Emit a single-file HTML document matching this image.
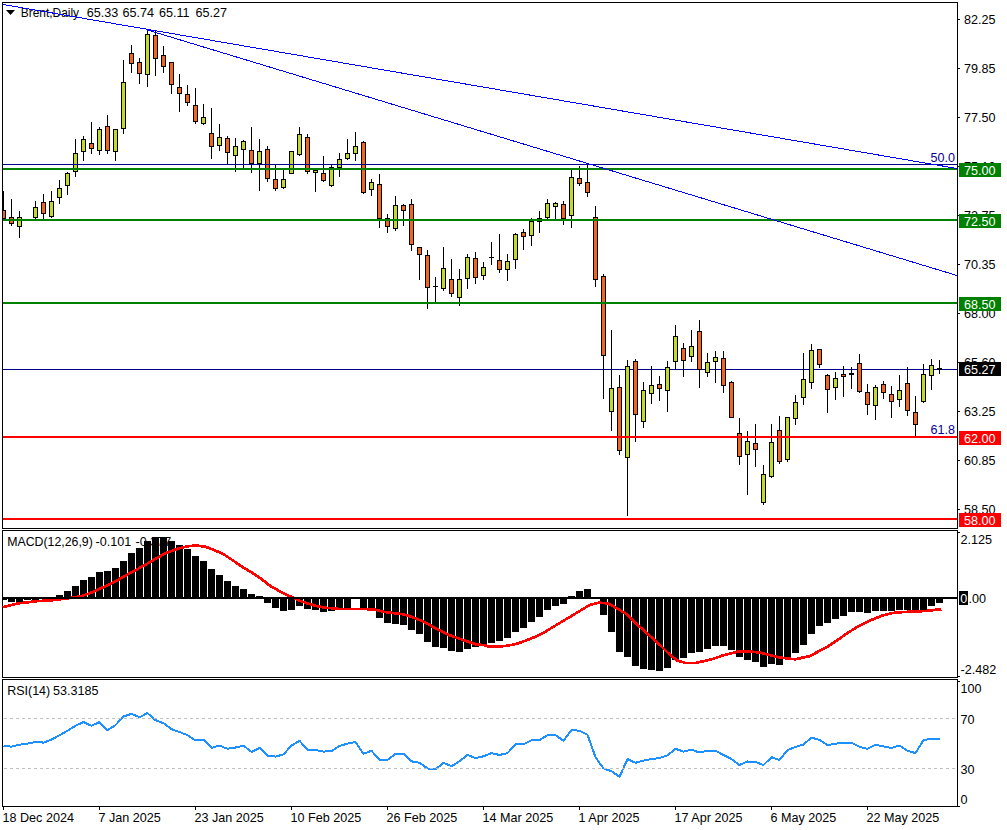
<!DOCTYPE html><html><head><meta charset="utf-8"><style>
html,body{margin:0;padding:0;background:#fff;width:1007px;height:830px;overflow:hidden}
svg{display:block}
text{font-family:"Liberation Sans", sans-serif;font-size:12.6px}
</style></head><body>
<svg width="1007" height="830" viewBox="0 0 1007 830">
<rect x="0" y="0" width="1007" height="830" fill="#fff"/>
<g shape-rendering="crispEdges">
<rect x="3" y="369" width="954" height="1" fill="#00008b"/>
</g>
<path d="M6 10 L15 10 L10.5 15 Z" fill="#000"/>
<text x="20.8" y="16.5" fill="#000" textLength="58.2" lengthAdjust="spacingAndGlyphs">Brent,Daily</text>
<text x="86.8" y="16.5" fill="#000">65.33</text>
<text x="122.4" y="16.5" fill="#000">65.74</text>
<text x="159" y="16.5" fill="#000">65.11</text>
<text x="195.6" y="16.5" fill="#000">65.27</text>
<g shape-rendering="crispEdges">
<clipPath id="mc"><rect x="3" y="3" width="954" height="525"/></clipPath>
<g clip-path="url(#mc)">
<rect x="3" y="191" width="1" height="30" fill="#000"/>
<rect x="1" y="210" width="5" height="9" fill="#000"/>
<rect x="2" y="211" width="3" height="7" fill="#f06520"/>
<rect x="11" y="199" width="1" height="27" fill="#000"/>
<rect x="9" y="217" width="5" height="7" fill="#000"/>
<rect x="10" y="218" width="3" height="5" fill="#f06520"/>
<rect x="19" y="211" width="1" height="27" fill="#000"/>
<rect x="17" y="217" width="5" height="10" fill="#000"/>
<rect x="18" y="218" width="3" height="8" fill="#c0d830"/>
<rect x="27" y="219" width="1" height="1" fill="#000"/>
<rect x="25" y="219" width="5" height="1" fill="#000"/>
<rect x="35" y="201" width="1" height="18" fill="#000"/>
<rect x="33" y="207" width="5" height="11" fill="#000"/>
<rect x="34" y="208" width="3" height="9" fill="#c0d830"/>
<rect x="43" y="194" width="1" height="25" fill="#000"/>
<rect x="41" y="202" width="5" height="12" fill="#000"/>
<rect x="42" y="203" width="3" height="10" fill="#f06520"/>
<rect x="51" y="191" width="1" height="27" fill="#000"/>
<rect x="49" y="201" width="5" height="16" fill="#000"/>
<rect x="50" y="202" width="3" height="14" fill="#c0d830"/>
<rect x="59" y="180" width="1" height="24" fill="#000"/>
<rect x="57" y="188" width="5" height="10" fill="#000"/>
<rect x="58" y="189" width="3" height="8" fill="#c0d830"/>
<rect x="67" y="172" width="1" height="23" fill="#000"/>
<rect x="65" y="173" width="5" height="13" fill="#000"/>
<rect x="66" y="174" width="3" height="11" fill="#c0d830"/>
<rect x="75" y="139" width="1" height="38" fill="#000"/>
<rect x="73" y="153" width="5" height="19" fill="#000"/>
<rect x="74" y="154" width="3" height="17" fill="#c0d830"/>
<rect x="83" y="136" width="1" height="25" fill="#000"/>
<rect x="81" y="139" width="5" height="13" fill="#000"/>
<rect x="82" y="140" width="3" height="11" fill="#c0d830"/>
<rect x="91" y="122" width="1" height="32" fill="#000"/>
<rect x="89" y="143" width="5" height="6" fill="#000"/>
<rect x="90" y="144" width="3" height="4" fill="#f06520"/>
<rect x="99" y="127" width="1" height="28" fill="#000"/>
<rect x="97" y="129" width="5" height="22" fill="#000"/>
<rect x="98" y="130" width="3" height="20" fill="#c0d830"/>
<rect x="107" y="115" width="1" height="39" fill="#000"/>
<rect x="105" y="126" width="5" height="25" fill="#000"/>
<rect x="106" y="127" width="3" height="23" fill="#f06520"/>
<rect x="115" y="129" width="1" height="32" fill="#000"/>
<rect x="113" y="129" width="5" height="23" fill="#000"/>
<rect x="114" y="130" width="3" height="21" fill="#c0d830"/>
<rect x="123" y="60" width="1" height="74" fill="#000"/>
<rect x="121" y="82" width="5" height="47" fill="#000"/>
<rect x="122" y="83" width="3" height="45" fill="#c0d830"/>
<rect x="131" y="45" width="1" height="28" fill="#000"/>
<rect x="129" y="53" width="5" height="11" fill="#000"/>
<rect x="130" y="54" width="3" height="9" fill="#f06520"/>
<rect x="139" y="58" width="1" height="26" fill="#000"/>
<rect x="137" y="62" width="5" height="12" fill="#000"/>
<rect x="138" y="63" width="3" height="10" fill="#f06520"/>
<rect x="147" y="30" width="1" height="57" fill="#000"/>
<rect x="145" y="34" width="5" height="41" fill="#000"/>
<rect x="146" y="35" width="3" height="39" fill="#c0d830"/>
<rect x="155" y="31" width="1" height="45" fill="#000"/>
<rect x="153" y="35" width="5" height="24" fill="#000"/>
<rect x="154" y="36" width="3" height="22" fill="#f06520"/>
<rect x="163" y="46" width="1" height="27" fill="#000"/>
<rect x="161" y="55" width="5" height="12" fill="#000"/>
<rect x="162" y="56" width="3" height="10" fill="#f06520"/>
<rect x="171" y="62" width="1" height="32" fill="#000"/>
<rect x="169" y="62" width="5" height="23" fill="#000"/>
<rect x="170" y="63" width="3" height="21" fill="#f06520"/>
<rect x="179" y="74" width="1" height="38" fill="#000"/>
<rect x="177" y="87" width="5" height="7" fill="#000"/>
<rect x="178" y="88" width="3" height="5" fill="#f06520"/>
<rect x="187" y="85" width="1" height="21" fill="#000"/>
<rect x="185" y="94" width="5" height="9" fill="#000"/>
<rect x="186" y="95" width="3" height="7" fill="#f06520"/>
<rect x="195" y="88" width="1" height="36" fill="#000"/>
<rect x="193" y="105" width="5" height="17" fill="#000"/>
<rect x="194" y="106" width="3" height="15" fill="#f06520"/>
<rect x="203" y="104" width="1" height="21" fill="#000"/>
<rect x="201" y="117" width="5" height="7" fill="#000"/>
<rect x="202" y="118" width="3" height="5" fill="#c0d830"/>
<rect x="211" y="108" width="1" height="51" fill="#000"/>
<rect x="209" y="133" width="5" height="14" fill="#000"/>
<rect x="210" y="134" width="3" height="12" fill="#f06520"/>
<rect x="219" y="124" width="1" height="27" fill="#000"/>
<rect x="217" y="137" width="5" height="9" fill="#000"/>
<rect x="218" y="138" width="3" height="7" fill="#c0d830"/>
<rect x="227" y="136" width="1" height="29" fill="#000"/>
<rect x="225" y="138" width="5" height="15" fill="#000"/>
<rect x="226" y="139" width="3" height="13" fill="#f06520"/>
<rect x="235" y="138" width="1" height="34" fill="#000"/>
<rect x="233" y="146" width="5" height="10" fill="#000"/>
<rect x="234" y="147" width="3" height="8" fill="#c0d830"/>
<rect x="243" y="140" width="1" height="28" fill="#000"/>
<rect x="241" y="141" width="5" height="9" fill="#000"/>
<rect x="242" y="142" width="3" height="7" fill="#c0d830"/>
<rect x="251" y="127" width="1" height="46" fill="#000"/>
<rect x="249" y="150" width="5" height="14" fill="#000"/>
<rect x="250" y="151" width="3" height="12" fill="#f06520"/>
<rect x="259" y="139" width="1" height="52" fill="#000"/>
<rect x="257" y="151" width="5" height="13" fill="#000"/>
<rect x="258" y="152" width="3" height="11" fill="#c0d830"/>
<rect x="267" y="146" width="1" height="36" fill="#000"/>
<rect x="265" y="149" width="5" height="30" fill="#000"/>
<rect x="266" y="150" width="3" height="28" fill="#f06520"/>
<rect x="275" y="164" width="1" height="27" fill="#000"/>
<rect x="273" y="179" width="5" height="10" fill="#000"/>
<rect x="274" y="180" width="3" height="8" fill="#f06520"/>
<rect x="283" y="170" width="1" height="19" fill="#000"/>
<rect x="281" y="179" width="5" height="9" fill="#000"/>
<rect x="282" y="180" width="3" height="7" fill="#c0d830"/>
<rect x="291" y="151" width="1" height="23" fill="#000"/>
<rect x="289" y="151" width="5" height="23" fill="#000"/>
<rect x="290" y="152" width="3" height="21" fill="#c0d830"/>
<rect x="299" y="127" width="1" height="29" fill="#000"/>
<rect x="297" y="134" width="5" height="21" fill="#000"/>
<rect x="298" y="135" width="3" height="19" fill="#c0d830"/>
<rect x="307" y="134" width="1" height="40" fill="#000"/>
<rect x="305" y="137" width="5" height="35" fill="#000"/>
<rect x="306" y="138" width="3" height="33" fill="#f06520"/>
<rect x="315" y="170" width="1" height="22" fill="#000"/>
<rect x="313" y="170" width="5" height="3" fill="#000"/>
<rect x="314" y="171" width="3" height="1" fill="#c0d830"/>
<rect x="323" y="156" width="1" height="26" fill="#000"/>
<rect x="321" y="173" width="5" height="8" fill="#000"/>
<rect x="322" y="174" width="3" height="6" fill="#f06520"/>
<rect x="331" y="165" width="1" height="22" fill="#000"/>
<rect x="329" y="167" width="5" height="19" fill="#000"/>
<rect x="330" y="168" width="3" height="17" fill="#c0d830"/>
<rect x="339" y="153" width="1" height="24" fill="#000"/>
<rect x="337" y="159" width="5" height="9" fill="#000"/>
<rect x="338" y="160" width="3" height="7" fill="#c0d830"/>
<rect x="347" y="139" width="1" height="21" fill="#000"/>
<rect x="345" y="153" width="5" height="6" fill="#000"/>
<rect x="346" y="154" width="3" height="4" fill="#c0d830"/>
<rect x="355" y="132" width="1" height="29" fill="#000"/>
<rect x="353" y="146" width="5" height="8" fill="#000"/>
<rect x="354" y="147" width="3" height="6" fill="#c0d830"/>
<rect x="363" y="141" width="1" height="53" fill="#000"/>
<rect x="361" y="142" width="5" height="51" fill="#000"/>
<rect x="362" y="143" width="3" height="49" fill="#f06520"/>
<rect x="371" y="179" width="1" height="17" fill="#000"/>
<rect x="369" y="182" width="5" height="8" fill="#000"/>
<rect x="370" y="183" width="3" height="6" fill="#c0d830"/>
<rect x="379" y="174" width="1" height="54" fill="#000"/>
<rect x="377" y="184" width="5" height="35" fill="#000"/>
<rect x="378" y="185" width="3" height="33" fill="#f06520"/>
<rect x="387" y="214" width="1" height="19" fill="#000"/>
<rect x="385" y="218" width="5" height="9" fill="#000"/>
<rect x="386" y="219" width="3" height="7" fill="#f06520"/>
<rect x="395" y="196" width="1" height="35" fill="#000"/>
<rect x="393" y="205" width="5" height="24" fill="#000"/>
<rect x="394" y="206" width="3" height="22" fill="#c0d830"/>
<rect x="403" y="204" width="1" height="22" fill="#000"/>
<rect x="401" y="205" width="5" height="6" fill="#000"/>
<rect x="402" y="206" width="3" height="4" fill="#f06520"/>
<rect x="411" y="199" width="1" height="52" fill="#000"/>
<rect x="409" y="204" width="5" height="41" fill="#000"/>
<rect x="410" y="205" width="3" height="39" fill="#f06520"/>
<rect x="419" y="247" width="1" height="33" fill="#000"/>
<rect x="417" y="247" width="5" height="8" fill="#000"/>
<rect x="418" y="248" width="3" height="6" fill="#f06520"/>
<rect x="427" y="250" width="1" height="59" fill="#000"/>
<rect x="425" y="255" width="5" height="33" fill="#000"/>
<rect x="426" y="256" width="3" height="31" fill="#f06520"/>
<rect x="435" y="277" width="1" height="26" fill="#000"/>
<rect x="433" y="286" width="5" height="1" fill="#000"/>
<rect x="443" y="247" width="1" height="44" fill="#000"/>
<rect x="441" y="268" width="5" height="21" fill="#000"/>
<rect x="442" y="269" width="3" height="19" fill="#c0d830"/>
<rect x="451" y="259" width="1" height="38" fill="#000"/>
<rect x="449" y="279" width="5" height="15" fill="#000"/>
<rect x="450" y="280" width="3" height="13" fill="#f06520"/>
<rect x="459" y="269" width="1" height="37" fill="#000"/>
<rect x="457" y="279" width="5" height="19" fill="#000"/>
<rect x="458" y="280" width="3" height="17" fill="#c0d830"/>
<rect x="467" y="254" width="1" height="35" fill="#000"/>
<rect x="465" y="257" width="5" height="22" fill="#000"/>
<rect x="466" y="258" width="3" height="20" fill="#c0d830"/>
<rect x="475" y="252" width="1" height="32" fill="#000"/>
<rect x="473" y="258" width="5" height="20" fill="#000"/>
<rect x="474" y="259" width="3" height="18" fill="#f06520"/>
<rect x="483" y="262" width="1" height="18" fill="#000"/>
<rect x="481" y="267" width="5" height="9" fill="#000"/>
<rect x="482" y="268" width="3" height="7" fill="#c0d830"/>
<rect x="491" y="242" width="1" height="23" fill="#000"/>
<rect x="489" y="257" width="5" height="1" fill="#000"/>
<rect x="499" y="234" width="1" height="39" fill="#000"/>
<rect x="497" y="260" width="5" height="10" fill="#000"/>
<rect x="498" y="261" width="3" height="8" fill="#f06520"/>
<rect x="507" y="254" width="1" height="27" fill="#000"/>
<rect x="505" y="261" width="5" height="9" fill="#000"/>
<rect x="506" y="262" width="3" height="7" fill="#c0d830"/>
<rect x="515" y="233" width="1" height="36" fill="#000"/>
<rect x="513" y="234" width="5" height="26" fill="#000"/>
<rect x="514" y="235" width="3" height="24" fill="#c0d830"/>
<rect x="523" y="229" width="1" height="21" fill="#000"/>
<rect x="521" y="232" width="5" height="5" fill="#000"/>
<rect x="522" y="233" width="3" height="3" fill="#f06520"/>
<rect x="531" y="218" width="1" height="28" fill="#000"/>
<rect x="529" y="221" width="5" height="15" fill="#000"/>
<rect x="530" y="222" width="3" height="13" fill="#c0d830"/>
<rect x="539" y="211" width="1" height="22" fill="#000"/>
<rect x="537" y="218" width="5" height="4" fill="#000"/>
<rect x="538" y="219" width="3" height="2" fill="#c0d830"/>
<rect x="547" y="199" width="1" height="20" fill="#000"/>
<rect x="545" y="203" width="5" height="15" fill="#000"/>
<rect x="546" y="204" width="3" height="13" fill="#c0d830"/>
<rect x="555" y="202" width="1" height="17" fill="#000"/>
<rect x="553" y="203" width="5" height="4" fill="#000"/>
<rect x="554" y="204" width="3" height="2" fill="#c0d830"/>
<rect x="563" y="201" width="1" height="24" fill="#000"/>
<rect x="561" y="204" width="5" height="15" fill="#000"/>
<rect x="562" y="205" width="3" height="13" fill="#f06520"/>
<rect x="571" y="170" width="1" height="58" fill="#000"/>
<rect x="569" y="177" width="5" height="39" fill="#000"/>
<rect x="570" y="178" width="3" height="37" fill="#c0d830"/>
<rect x="579" y="166" width="1" height="20" fill="#000"/>
<rect x="577" y="178" width="5" height="6" fill="#000"/>
<rect x="578" y="179" width="3" height="4" fill="#f06520"/>
<rect x="587" y="164" width="1" height="33" fill="#000"/>
<rect x="585" y="182" width="5" height="11" fill="#000"/>
<rect x="586" y="183" width="3" height="9" fill="#f06520"/>
<rect x="595" y="206" width="1" height="81" fill="#000"/>
<rect x="593" y="217" width="5" height="63" fill="#000"/>
<rect x="594" y="218" width="3" height="61" fill="#f06520"/>
<rect x="603" y="274" width="1" height="125" fill="#000"/>
<rect x="601" y="276" width="5" height="80" fill="#000"/>
<rect x="602" y="277" width="3" height="78" fill="#f06520"/>
<rect x="611" y="330" width="1" height="101" fill="#000"/>
<rect x="609" y="388" width="5" height="24" fill="#000"/>
<rect x="610" y="389" width="3" height="22" fill="#c0d830"/>
<rect x="619" y="375" width="1" height="80" fill="#000"/>
<rect x="617" y="387" width="5" height="64" fill="#000"/>
<rect x="618" y="388" width="3" height="62" fill="#f06520"/>
<rect x="627" y="360" width="1" height="156" fill="#000"/>
<rect x="625" y="366" width="5" height="92" fill="#000"/>
<rect x="626" y="367" width="3" height="90" fill="#c0d830"/>
<rect x="635" y="359" width="1" height="83" fill="#000"/>
<rect x="633" y="361" width="5" height="54" fill="#000"/>
<rect x="634" y="362" width="3" height="52" fill="#f06520"/>
<rect x="643" y="382" width="1" height="46" fill="#000"/>
<rect x="641" y="390" width="5" height="32" fill="#000"/>
<rect x="642" y="391" width="3" height="30" fill="#c0d830"/>
<rect x="651" y="366" width="1" height="38" fill="#000"/>
<rect x="649" y="385" width="5" height="9" fill="#000"/>
<rect x="650" y="386" width="3" height="7" fill="#c0d830"/>
<rect x="659" y="376" width="1" height="25" fill="#000"/>
<rect x="657" y="384" width="5" height="5" fill="#000"/>
<rect x="658" y="385" width="3" height="3" fill="#f06520"/>
<rect x="667" y="361" width="1" height="51" fill="#000"/>
<rect x="665" y="367" width="5" height="24" fill="#000"/>
<rect x="666" y="368" width="3" height="22" fill="#c0d830"/>
<rect x="675" y="325" width="1" height="45" fill="#000"/>
<rect x="673" y="336" width="5" height="26" fill="#000"/>
<rect x="674" y="337" width="3" height="24" fill="#c0d830"/>
<rect x="683" y="343" width="1" height="34" fill="#000"/>
<rect x="681" y="348" width="5" height="13" fill="#000"/>
<rect x="682" y="349" width="3" height="11" fill="#f06520"/>
<rect x="691" y="330" width="1" height="32" fill="#000"/>
<rect x="689" y="346" width="5" height="11" fill="#000"/>
<rect x="690" y="347" width="3" height="9" fill="#c0d830"/>
<rect x="699" y="320" width="1" height="68" fill="#000"/>
<rect x="697" y="331" width="5" height="39" fill="#000"/>
<rect x="698" y="332" width="3" height="37" fill="#f06520"/>
<rect x="707" y="353" width="1" height="24" fill="#000"/>
<rect x="705" y="362" width="5" height="11" fill="#000"/>
<rect x="706" y="363" width="3" height="9" fill="#c0d830"/>
<rect x="715" y="351" width="1" height="32" fill="#000"/>
<rect x="713" y="357" width="5" height="5" fill="#000"/>
<rect x="714" y="358" width="3" height="3" fill="#c0d830"/>
<rect x="723" y="351" width="1" height="42" fill="#000"/>
<rect x="721" y="358" width="5" height="28" fill="#000"/>
<rect x="722" y="359" width="3" height="26" fill="#f06520"/>
<rect x="731" y="381" width="1" height="37" fill="#000"/>
<rect x="729" y="382" width="5" height="36" fill="#000"/>
<rect x="730" y="383" width="3" height="34" fill="#f06520"/>
<rect x="739" y="418" width="1" height="47" fill="#000"/>
<rect x="737" y="433" width="5" height="24" fill="#000"/>
<rect x="738" y="434" width="3" height="22" fill="#f06520"/>
<rect x="747" y="431" width="1" height="64" fill="#000"/>
<rect x="745" y="441" width="5" height="14" fill="#000"/>
<rect x="746" y="442" width="3" height="12" fill="#c0d830"/>
<rect x="755" y="424" width="1" height="43" fill="#000"/>
<rect x="753" y="443" width="5" height="7" fill="#000"/>
<rect x="754" y="444" width="3" height="5" fill="#f06520"/>
<rect x="763" y="465" width="1" height="40" fill="#000"/>
<rect x="761" y="474" width="5" height="29" fill="#000"/>
<rect x="762" y="475" width="3" height="27" fill="#c0d830"/>
<rect x="771" y="424" width="1" height="54" fill="#000"/>
<rect x="769" y="442" width="5" height="35" fill="#000"/>
<rect x="770" y="443" width="3" height="33" fill="#c0d830"/>
<rect x="779" y="416" width="1" height="48" fill="#000"/>
<rect x="777" y="430" width="5" height="32" fill="#000"/>
<rect x="778" y="431" width="3" height="30" fill="#f06520"/>
<rect x="787" y="417" width="1" height="45" fill="#000"/>
<rect x="785" y="417" width="5" height="43" fill="#000"/>
<rect x="786" y="418" width="3" height="41" fill="#c0d830"/>
<rect x="795" y="395" width="1" height="30" fill="#000"/>
<rect x="793" y="402" width="5" height="17" fill="#000"/>
<rect x="794" y="403" width="3" height="15" fill="#c0d830"/>
<rect x="803" y="353" width="1" height="52" fill="#000"/>
<rect x="801" y="379" width="5" height="19" fill="#000"/>
<rect x="802" y="380" width="3" height="17" fill="#c0d830"/>
<rect x="811" y="344" width="1" height="45" fill="#000"/>
<rect x="809" y="350" width="5" height="33" fill="#000"/>
<rect x="810" y="351" width="3" height="31" fill="#c0d830"/>
<rect x="819" y="349" width="1" height="19" fill="#000"/>
<rect x="817" y="349" width="5" height="16" fill="#000"/>
<rect x="818" y="350" width="3" height="14" fill="#f06520"/>
<rect x="827" y="374" width="1" height="39" fill="#000"/>
<rect x="825" y="375" width="5" height="15" fill="#000"/>
<rect x="826" y="376" width="3" height="13" fill="#f06520"/>
<rect x="835" y="372" width="1" height="28" fill="#000"/>
<rect x="833" y="378" width="5" height="10" fill="#000"/>
<rect x="834" y="379" width="3" height="8" fill="#c0d830"/>
<rect x="843" y="366" width="1" height="31" fill="#000"/>
<rect x="841" y="374" width="5" height="3" fill="#000"/>
<rect x="842" y="375" width="3" height="1" fill="#f06520"/>
<rect x="851" y="367" width="1" height="22" fill="#000"/>
<rect x="849" y="373" width="5" height="2" fill="#000"/>
<rect x="859" y="354" width="1" height="39" fill="#000"/>
<rect x="857" y="363" width="5" height="29" fill="#000"/>
<rect x="858" y="364" width="3" height="27" fill="#f06520"/>
<rect x="867" y="384" width="1" height="31" fill="#000"/>
<rect x="865" y="392" width="5" height="13" fill="#000"/>
<rect x="866" y="393" width="3" height="11" fill="#f06520"/>
<rect x="875" y="385" width="1" height="35" fill="#000"/>
<rect x="873" y="387" width="5" height="19" fill="#000"/>
<rect x="874" y="388" width="3" height="17" fill="#c0d830"/>
<rect x="883" y="381" width="1" height="18" fill="#000"/>
<rect x="881" y="384" width="5" height="9" fill="#000"/>
<rect x="882" y="385" width="3" height="7" fill="#f06520"/>
<rect x="891" y="386" width="1" height="32" fill="#000"/>
<rect x="889" y="394" width="5" height="8" fill="#000"/>
<rect x="890" y="395" width="3" height="6" fill="#f06520"/>
<rect x="899" y="375" width="1" height="32" fill="#000"/>
<rect x="897" y="390" width="5" height="10" fill="#000"/>
<rect x="898" y="391" width="3" height="8" fill="#c0d830"/>
<rect x="907" y="367" width="1" height="49" fill="#000"/>
<rect x="905" y="383" width="5" height="28" fill="#000"/>
<rect x="906" y="384" width="3" height="26" fill="#f06520"/>
<rect x="915" y="396" width="1" height="40" fill="#000"/>
<rect x="913" y="412" width="5" height="13" fill="#000"/>
<rect x="914" y="413" width="3" height="11" fill="#f06520"/>
<rect x="923" y="364" width="1" height="39" fill="#000"/>
<rect x="921" y="374" width="5" height="28" fill="#000"/>
<rect x="922" y="375" width="3" height="26" fill="#c0d830"/>
<rect x="931" y="359" width="1" height="31" fill="#000"/>
<rect x="929" y="365" width="5" height="11" fill="#000"/>
<rect x="930" y="366" width="3" height="9" fill="#c0d830"/>
<rect x="939" y="360" width="1" height="14" fill="#000"/>
<rect x="937" y="368" width="5" height="2" fill="#000"/>
</g></g>
<g shape-rendering="crispEdges">
<rect x="3" y="164" width="954" height="1" fill="#00008b"/>
<rect x="3" y="168" width="954" height="2" fill="#008000"/>
<rect x="3" y="219" width="954" height="2" fill="#008000"/>
<rect x="3" y="302" width="954" height="2" fill="#008000"/>
<rect x="3" y="436" width="954" height="2" fill="#ff0000"/>
<rect x="3" y="518" width="954" height="2" fill="#ff0000"/>
</g>
<g stroke="#0000ff" stroke-width="1" fill="none" shape-rendering="crispEdges">
<line x1="3" y1="4.5" x2="957" y2="168.5"/>
<line x1="147.5" y1="30" x2="957" y2="275.5"/>
</g>
<text x="955" y="162" fill="#0a0096" text-anchor="end">50.0</text>
<text x="955" y="434" fill="#0a0096" text-anchor="end">61.8</text>
<g shape-rendering="crispEdges">
<rect x="2" y="2" width="956" height="1" fill="#000"/>
<rect x="2" y="2" width="1" height="527" fill="#000"/>
<rect x="957" y="2" width="1" height="527" fill="#000"/>
<rect x="2" y="528" width="956" height="1" fill="#000"/>
<rect x="2" y="530" width="956" height="1" fill="#000"/>
<rect x="2" y="530" width="1" height="148" fill="#000"/>
<rect x="957" y="530" width="1" height="148" fill="#000"/>
<rect x="2" y="677" width="956" height="1" fill="#000"/>
<rect x="2" y="679" width="956" height="1" fill="#000"/>
<rect x="2" y="679" width="1" height="128" fill="#000"/>
<rect x="957" y="679" width="1" height="128" fill="#000"/>
<rect x="2" y="806" width="956" height="1" fill="#000"/>
</g>
<g shape-rendering="crispEdges">
<rect x="958" y="19" width="2" height="1" fill="#000"/>
<rect x="958" y="68" width="2" height="1" fill="#000"/>
<rect x="958" y="117" width="2" height="1" fill="#000"/>
<rect x="958" y="166" width="2" height="1" fill="#000"/>
<rect x="958" y="215" width="2" height="1" fill="#000"/>
<rect x="958" y="264" width="2" height="1" fill="#000"/>
<rect x="958" y="313" width="2" height="1" fill="#000"/>
<rect x="958" y="362" width="2" height="1" fill="#000"/>
<rect x="958" y="411" width="2" height="1" fill="#000"/>
<rect x="958" y="460" width="2" height="1" fill="#000"/>
<rect x="958" y="509" width="2" height="1" fill="#000"/>
</g>
<text x="964.1" y="23.5" fill="#000">82.25</text>
<text x="964.1" y="72.5" fill="#000">79.85</text>
<text x="964.1" y="121.5" fill="#000">77.50</text>
<text x="964.1" y="170.5" fill="#000">75.10</text>
<text x="964.1" y="219.5" fill="#000">72.75</text>
<text x="964.1" y="268.5" fill="#000">70.35</text>
<text x="964.1" y="317.5" fill="#000">68.00</text>
<text x="964.1" y="366.5" fill="#000">65.60</text>
<text x="964.1" y="415.5" fill="#000">63.25</text>
<text x="964.1" y="464.5" fill="#000">60.85</text>
<text x="964.1" y="513.5" fill="#000">58.50</text>
<g shape-rendering="crispEdges">
<rect x="959" y="163" width="42" height="14" fill="#008000"/>
<rect x="959" y="214" width="42" height="14" fill="#008000"/>
<rect x="959" y="297" width="42" height="14" fill="#008000"/>
<rect x="959" y="362" width="42" height="14" fill="#000"/>
<rect x="959" y="431" width="42" height="14" fill="#ff0000"/>
<rect x="959" y="513" width="42" height="14" fill="#ff0000"/>
</g>
<text x="964.1" y="174.6" fill="#fff">75.00</text>
<text x="964.1" y="225.6" fill="#fff">72.50</text>
<text x="964.1" y="308.6" fill="#fff">68.50</text>
<text x="964.1" y="373.6" fill="#fff">65.27</text>
<text x="964.1" y="442.6" fill="#fff">62.00</text>
<text x="964.1" y="524.6" fill="#fff">58.00</text>
<clipPath id="macdc"><rect x="3" y="531" width="954" height="146"/></clipPath>
<g shape-rendering="crispEdges">
<text x="7.2" y="546" fill="#000" textLength="85.6" lengthAdjust="spacingAndGlyphs">MACD(12,26,9)</text>
<text x="95.5" y="546" fill="#000">-0.101</text>
<text x="135.5" y="546" fill="#000">-0.377</text>
<g clip-path="url(#macdc)">
<rect x="0" y="599" width="7" height="1" fill="#000"/>
<rect x="8" y="599" width="7" height="3" fill="#000"/>
<rect x="16" y="599" width="7" height="3" fill="#000"/>
<rect x="24" y="599" width="7" height="1" fill="#000"/>
<rect x="32" y="599" width="7" height="1" fill="#000"/>
<rect x="56" y="595" width="7" height="2" fill="#000"/>
<rect x="64" y="591" width="7" height="6" fill="#000"/>
<rect x="72" y="586" width="7" height="11" fill="#000"/>
<rect x="80" y="580" width="7" height="17" fill="#000"/>
<rect x="88" y="577" width="7" height="20" fill="#000"/>
<rect x="96" y="572" width="7" height="25" fill="#000"/>
<rect x="104" y="571" width="7" height="26" fill="#000"/>
<rect x="112" y="568" width="7" height="29" fill="#000"/>
<rect x="120" y="561" width="7" height="36" fill="#000"/>
<rect x="128" y="553" width="7" height="44" fill="#000"/>
<rect x="136" y="548" width="7" height="49" fill="#000"/>
<rect x="144" y="541" width="7" height="56" fill="#000"/>
<rect x="152" y="537" width="7" height="60" fill="#000"/>
<rect x="160" y="537" width="7" height="60" fill="#000"/>
<rect x="168" y="541" width="7" height="56" fill="#000"/>
<rect x="176" y="545" width="7" height="52" fill="#000"/>
<rect x="184" y="549" width="7" height="48" fill="#000"/>
<rect x="192" y="556" width="7" height="41" fill="#000"/>
<rect x="200" y="561" width="7" height="36" fill="#000"/>
<rect x="208" y="569" width="7" height="28" fill="#000"/>
<rect x="216" y="575" width="7" height="22" fill="#000"/>
<rect x="224" y="581" width="7" height="16" fill="#000"/>
<rect x="232" y="586" width="7" height="11" fill="#000"/>
<rect x="240" y="589" width="7" height="8" fill="#000"/>
<rect x="248" y="594" width="7" height="3" fill="#000"/>
<rect x="256" y="596" width="7" height="1" fill="#000"/>
<rect x="264" y="599" width="7" height="4" fill="#000"/>
<rect x="272" y="599" width="7" height="9" fill="#000"/>
<rect x="280" y="599" width="7" height="12" fill="#000"/>
<rect x="288" y="599" width="7" height="11" fill="#000"/>
<rect x="296" y="599" width="7" height="7" fill="#000"/>
<rect x="304" y="599" width="7" height="10" fill="#000"/>
<rect x="312" y="599" width="7" height="11" fill="#000"/>
<rect x="320" y="599" width="7" height="13" fill="#000"/>
<rect x="328" y="599" width="7" height="12" fill="#000"/>
<rect x="336" y="599" width="7" height="10" fill="#000"/>
<rect x="344" y="599" width="7" height="10" fill="#000"/>
<rect x="360" y="599" width="7" height="11" fill="#000"/>
<rect x="368" y="599" width="7" height="12" fill="#000"/>
<rect x="376" y="599" width="7" height="19" fill="#000"/>
<rect x="384" y="599" width="7" height="24" fill="#000"/>
<rect x="392" y="599" width="7" height="25" fill="#000"/>
<rect x="400" y="599" width="7" height="26" fill="#000"/>
<rect x="408" y="599" width="7" height="31" fill="#000"/>
<rect x="416" y="599" width="7" height="35" fill="#000"/>
<rect x="424" y="599" width="7" height="43" fill="#000"/>
<rect x="432" y="599" width="7" height="48" fill="#000"/>
<rect x="440" y="599" width="7" height="49" fill="#000"/>
<rect x="448" y="599" width="7" height="52" fill="#000"/>
<rect x="456" y="599" width="7" height="53" fill="#000"/>
<rect x="464" y="599" width="7" height="50" fill="#000"/>
<rect x="472" y="599" width="7" height="48" fill="#000"/>
<rect x="480" y="599" width="7" height="47" fill="#000"/>
<rect x="488" y="599" width="7" height="44" fill="#000"/>
<rect x="496" y="599" width="7" height="42" fill="#000"/>
<rect x="504" y="599" width="7" height="39" fill="#000"/>
<rect x="512" y="599" width="7" height="33" fill="#000"/>
<rect x="520" y="599" width="7" height="29" fill="#000"/>
<rect x="528" y="599" width="7" height="23" fill="#000"/>
<rect x="536" y="599" width="7" height="18" fill="#000"/>
<rect x="544" y="599" width="7" height="11" fill="#000"/>
<rect x="552" y="599" width="7" height="7" fill="#000"/>
<rect x="560" y="599" width="7" height="5" fill="#000"/>
<rect x="568" y="596" width="7" height="1" fill="#000"/>
<rect x="576" y="591" width="7" height="6" fill="#000"/>
<rect x="584" y="589" width="7" height="8" fill="#000"/>
<rect x="600" y="599" width="7" height="16" fill="#000"/>
<rect x="608" y="599" width="7" height="33" fill="#000"/>
<rect x="616" y="599" width="7" height="53" fill="#000"/>
<rect x="624" y="599" width="7" height="58" fill="#000"/>
<rect x="632" y="599" width="7" height="67" fill="#000"/>
<rect x="640" y="599" width="7" height="70" fill="#000"/>
<rect x="648" y="599" width="7" height="71" fill="#000"/>
<rect x="656" y="599" width="7" height="72" fill="#000"/>
<rect x="664" y="599" width="7" height="69" fill="#000"/>
<rect x="672" y="599" width="7" height="61" fill="#000"/>
<rect x="680" y="599" width="7" height="59" fill="#000"/>
<rect x="688" y="599" width="7" height="54" fill="#000"/>
<rect x="696" y="599" width="7" height="53" fill="#000"/>
<rect x="704" y="599" width="7" height="50" fill="#000"/>
<rect x="712" y="599" width="7" height="47" fill="#000"/>
<rect x="720" y="599" width="7" height="47" fill="#000"/>
<rect x="728" y="599" width="7" height="51" fill="#000"/>
<rect x="736" y="599" width="7" height="58" fill="#000"/>
<rect x="744" y="599" width="7" height="61" fill="#000"/>
<rect x="752" y="599" width="7" height="63" fill="#000"/>
<rect x="760" y="599" width="7" height="68" fill="#000"/>
<rect x="768" y="599" width="7" height="65" fill="#000"/>
<rect x="776" y="599" width="7" height="66" fill="#000"/>
<rect x="784" y="599" width="7" height="58" fill="#000"/>
<rect x="792" y="599" width="7" height="54" fill="#000"/>
<rect x="800" y="599" width="7" height="46" fill="#000"/>
<rect x="808" y="599" width="7" height="35" fill="#000"/>
<rect x="816" y="599" width="7" height="27" fill="#000"/>
<rect x="824" y="599" width="7" height="24" fill="#000"/>
<rect x="832" y="599" width="7" height="20" fill="#000"/>
<rect x="840" y="599" width="7" height="17" fill="#000"/>
<rect x="848" y="599" width="7" height="13" fill="#000"/>
<rect x="856" y="599" width="7" height="13" fill="#000"/>
<rect x="864" y="599" width="7" height="14" fill="#000"/>
<rect x="872" y="599" width="7" height="12" fill="#000"/>
<rect x="880" y="599" width="7" height="12" fill="#000"/>
<rect x="888" y="599" width="7" height="12" fill="#000"/>
<rect x="896" y="599" width="7" height="11" fill="#000"/>
<rect x="904" y="599" width="7" height="11" fill="#000"/>
<rect x="912" y="599" width="7" height="14" fill="#000"/>
<rect x="920" y="599" width="7" height="11" fill="#000"/>
<rect x="928" y="599" width="7" height="7" fill="#000"/>
<rect x="936" y="599" width="7" height="4" fill="#000"/>
</g>
</g>
<polyline points="2.7,607.3 18.3,603.4 36.6,601.2 54.9,600 73.2,597.6 82.4,595.8 91.6,592.5 100.7,588.4 109.9,583.9 119,579.3 128.2,574.1 137.3,569.2 146.5,564.1 155.6,558.8 164.8,553.6 169.2,551.8 178.3,548.5 187.5,546.3 196.6,545.4 205.8,546.9 214.9,550.3 224.1,554.6 233.2,560.6 242.4,567 251.6,572.5 260.7,578.4 269.9,585.7 279,590.8 288.2,595.4 297.3,599.8 306.5,603.1 315.6,605.8 324.8,607.7 329.2,608 338.3,608.9 347.5,609.1 356.6,609.1 365.8,609.1 374.9,609.7 384.1,611.9 393.2,613 402.4,614.1 411.6,616.8 420.7,620.5 429.9,625.1 439,630 448.2,634.8 457.3,637.9 466.5,641.2 475.6,644.3 484.8,645.2 489.2,646.7 498.3,646.7 507.5,645.7 516.6,643.9 525.8,640.6 534.9,637 544.1,632.4 553.2,626.9 562.4,621.4 571.6,615.9 580.7,610.4 589.9,604.9 599,602.7 608.2,603.4 617.3,608.6 626.5,614.1 635.6,623.2 640,627 644.8,631.3 649.2,635.3 658.3,643.4 667.5,652.5 676.6,660.2 685.8,663.1 694.9,663.1 704.1,661.1 713.2,658.9 722.4,655.6 731.6,653.1 740.7,651.2 749.9,651.6 759,652.5 768.2,654.7 777.3,657.1 786.5,658.4 795.6,659.3 804.8,657.1 809.2,656.2 818.3,651.6 827.5,646.7 836.6,640.6 845.8,634.2 854.9,628.3 864.1,623.2 873.2,619.2 882.4,615.5 891.6,613.1 900.7,612.2 909.9,611.7 919,611.3 928.2,610.8 937.3,609.5 941.5,609.3" fill="none" stroke="#ff0000" stroke-width="2.7" stroke-linejoin="round" shape-rendering="crispEdges"/>
<g shape-rendering="crispEdges" clip-path="url(#macdc)">
<rect x="0" y="597" width="957" height="2" fill="#000"/>
</g>
<g shape-rendering="crispEdges">
<rect x="958" y="532" width="2" height="1" fill="#000"/>
<rect x="958" y="676" width="2" height="1" fill="#000"/>
<rect x="959" y="591" width="9" height="14" fill="#000"/>
</g>
<text x="960.6" y="544" fill="#000">2.125</text>
<text x="960.3" y="602.5" fill="#fff">0</text>
<text x="968.6" y="602.5" fill="#000">.00</text>
<text x="960.6" y="674" fill="#000">-2.482</text>
<text x="7.2" y="695" fill="#000" textLength="43" lengthAdjust="spacingAndGlyphs">RSI(14)</text>
<text x="52.9" y="695" fill="#000">53.3185</text>
<polyline points="3.5,745.6 11.5,746.7 19.5,744.7 27.5,743.7 35.5,741.9 43.5,742.6 51.5,739.5 59.5,735.3 67.5,730.7 75.5,725.8 83.5,722.1 91.5,725.8 99.5,722.1 107.5,730.1 115.5,725.1 123.5,716.5 131.5,713.9 139.5,717.2 147.5,713.1 155.5,720.2 163.5,723.2 171.5,729.2 179.5,732 187.5,735.2 195.5,740.4 203.5,739.8 211.5,747.9 219.5,745.6 227.5,748.8 235.5,747.5 243.5,745.6 251.5,752 259.5,747.9 267.5,755.7 275.5,756.6 283.5,754.4 291.5,745.6 299.5,740.8 307.5,749.7 315.5,750.1 323.5,751.6 331.5,751.2 339.5,746 347.5,743.6 355.5,741.9 363.5,753.8 371.5,750.7 379.5,760 387.5,760 395.5,753.8 403.5,753.8 411.5,761.3 419.5,762.8 427.5,768.4 435.5,769.3 443.5,762.8 451.5,766.2 459.5,761.3 467.5,755 475.5,758.1 483.5,756.3 491.5,753.1 499.5,755 507.5,753.1 515.5,744.5 523.5,744.1 531.5,740.4 539.5,740 547.5,735.2 555.5,735.2 563.5,740.8 571.5,730.1 579.5,730.7 587.5,734.8 595.5,757.2 603.5,768.4 611.5,771.2 619.5,776.8 627.5,759.1 635.5,762.8 643.5,760.6 651.5,759.1 659.5,758.1 667.5,755.3 675.5,748.8 683.5,751.6 691.5,749.7 699.5,752.5 707.5,750.7 715.5,750.7 723.5,755 731.5,759.1 739.5,765 747.5,761.5 755.5,761.9 763.5,765 771.5,757.2 779.5,760 787.5,750.1 795.5,746.9 803.5,744.5 811.5,737.6 819.5,740 827.5,745.1 835.5,743.7 843.5,742.6 851.5,742.6 859.5,746.9 867.5,748.8 875.5,744.7 883.5,746.4 891.5,747.9 899.5,745.6 907.5,750.7 915.5,753.1 923.5,740 931.5,738.9 939.5,738.9" fill="none" stroke="#1e90ff" stroke-width="2" stroke-linejoin="round" shape-rendering="crispEdges"/>
<g stroke="#c0c0c0" stroke-width="1" stroke-dasharray="3,3" shape-rendering="crispEdges">
<line x1="4" y1="718.5" x2="957" y2="718.5"/>
<line x1="4" y1="768.5" x2="957" y2="768.5"/>
</g>
<g shape-rendering="crispEdges">
<rect x="958" y="681" width="2" height="1" fill="#000"/>
<rect x="958" y="806" width="2" height="1" fill="#000"/>
</g>
<text x="960.5" y="693" fill="#000">100</text>
<text x="960.5" y="723.5" fill="#000">70</text>
<text x="960.5" y="773.5" fill="#000">30</text>
<text x="960.5" y="803.5" fill="#000">0</text>
<g shape-rendering="crispEdges">
<rect x="3" y="807" width="1" height="3" fill="#000"/>
<rect x="99" y="807" width="1" height="3" fill="#000"/>
<rect x="195" y="807" width="1" height="3" fill="#000"/>
<rect x="291" y="807" width="1" height="3" fill="#000"/>
<rect x="387" y="807" width="1" height="3" fill="#000"/>
<rect x="483" y="807" width="1" height="3" fill="#000"/>
<rect x="579" y="807" width="1" height="3" fill="#000"/>
<rect x="675" y="807" width="1" height="3" fill="#000"/>
<rect x="771" y="807" width="1" height="3" fill="#000"/>
<rect x="867" y="807" width="1" height="3" fill="#000"/>
</g>
<text x="2.5" y="822" fill="#000">18 Dec 2024</text>
<text x="98.5" y="822" fill="#000">7 Jan 2025</text>
<text x="194.5" y="822" fill="#000">23 Jan 2025</text>
<text x="290.5" y="822" fill="#000">10 Feb 2025</text>
<text x="386.5" y="822" fill="#000">26 Feb 2025</text>
<text x="482.5" y="822" fill="#000">14 Mar 2025</text>
<text x="578.5" y="822" fill="#000">1 Apr 2025</text>
<text x="674.5" y="822" fill="#000">17 Apr 2025</text>
<text x="770.5" y="822" fill="#000">6 May 2025</text>
<text x="866.5" y="822" fill="#000">22 May 2025</text>
</svg></body></html>
